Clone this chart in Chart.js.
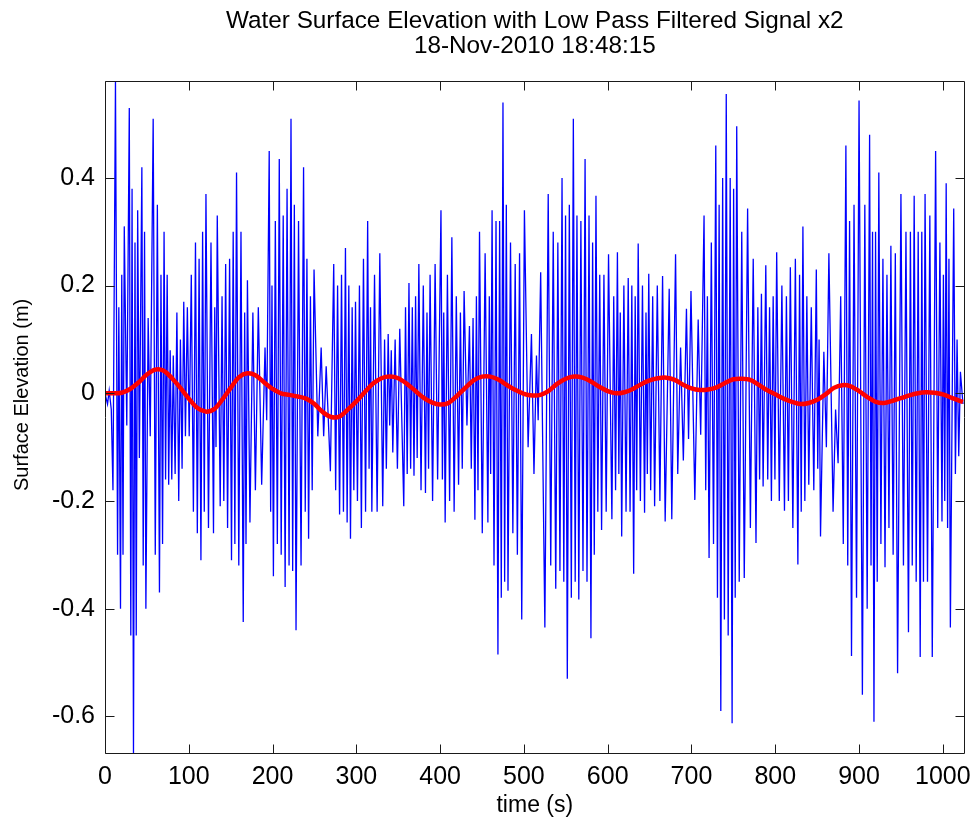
<!DOCTYPE html>
<html><head><meta charset="utf-8">
<script src="https://cdn.jsdelivr.net/npm/chart.js@4.4.1/dist/chart.umd.min.js"></script>
<style>html,body{margin:0;padding:0;background:#fff;}#wrap{width:979px;height:827px;}</style>
</head><body><div id="wrap"><canvas id="c" width="979" height="827"></canvas></div>
<script>
const titleLines = ['Water Surface Elevation with Low Pass Filtered Signal x2', '18-Nov-2010 18:48:15'];
const xLabel = 'time (s)';
const yLabel = 'Surface Elevation (m)';
const xTicks = [0, 100, 200, 300, 400, 500, 600, 700, 800, 900, 1000];
const yTicks = [-0.6, -0.4, -0.2, 0, 0.2, 0.4];

// raw surface elevation: successive crests and troughs
const waveTime = [0,3,5,7.5,9.5,12.5,15,16.5,18.5,20,21.5,23,26,29,30.8,32.3,34,35.8,37.3,39,41,44,45.6,47.2,48.8,51.5,54,57.5,60,62.5,65,66.8,68.7,70.5,72.3,74.2,76,77.8,79.7,81.5,83.7,85.8,88,90,92,94,96,98.3,100.5,103,105.5,108,110.2,112.3,114.5,116.5,118.5,120.5,123.5,126.5,129.5,131,132.5,134,137.5,139.7,141.8,144,146.3,148.7,151,153,155,157,159.7,162.3,165,166.7,168.3,170,173,176.5,179.5,183,187,191,193,196,197.7,199.3,201,203.3,205.7,208,210.3,212.7,215,217.3,219.7,222,224,226,228,231,234,237,239,241,243,245.2,247.3,249.5,254,258,261,264,269,273,275.3,277.6,280,282.3,284.6,287,289,291,293,295,297,299,301.3,303.7,306,308.5,311,313.5,315.2,316.9,318.5,321.7,324.8,328,331.5,333.7,335.8,338,339.8,341.7,343.5,346.3,349,351.8,356.6,358.7,360.7,362.8,364.8,366.8,368.8,370.7,372.6,374.6,377.2,379.9,382.5,384.3,386.2,388,391,394,397,401,402.7,404.3,406,408.7,411.3,414,416.7,419.3,422,424.2,426.4,428.6,432,435,437.2,439.3,441.5,443.3,445.2,447,450.3,453.7,457,458.7,460.3,462,464.3,466.7,469,471,473,475,477,479,481,484,486.8,489.6,492.2,494.8,497.4,500.6,505,509,512,515,517,520,525,529,532,535,538,540.5,543,545.5,547.6,549.7,551.8,554.2,556.6,559,561.2,563.3,565.5,568,570.5,573,575.3,577.7,580,582,584,586,588.2,590.5,592.7,595.5,598.2,601,605,607.2,609.4,611.6,613.3,615,616.7,619.3,621.9,624.5,626.7,628.8,631,632.8,634.6,636.4,639,641.5,644,645.7,647.3,649,651.3,653.7,656,659.2,662.3,665.5,668.6,673.4,676.5,681,683.6,687,690.3,694,696.5,699.4,704,708,711,715,717,719,721,723.7,726.3,729,731,733,735,737.2,739.3,741.5,743.8,746.2,748.5,750.3,752.2,754,757,760,763,767,770.3,773.7,777,779.2,781.3,783.5,785.5,788.7,791,793.2,795.4,797.5,799.6,801.7,804.8,807.9,811,813.3,815.7,818,821,824,827,829,831,833,835.3,837.7,840,843,846,849,850.7,852.3,854,858,861,864,869,872,875,878.1,881.2,884.3,886.5,888.7,891,894,897,900,904,906.9,909.7,912.6,914.3,916.1,917.8,919.7,921.7,923.6,926.1,928.5,931,933.3,935.7,938,940.7,943.3,946,950,953,956,959,961.3,963.5,965.8,968.2,970.6,973,974.9,976.9,978.8,981.7,984.5,987.4,991.4,993.9,996.5,999,1000.7,1002.3,1004,1005.7,1007.3,1009,1013,1015,1017,1019,1021,1024];
const waveElev = [0,-0.02,0.005,-0.03,-0.18,0.58,-0.30,0.16,-0.40,0.22,-0.30,0.31,-0.06,0.53,-0.45,0.38,-0.67,0.28,-0.45,0.34,-0.12,0.42,-0.32,0.30,-0.40,0.14,-0.08,0.51,-0.30,0.35,-0.37,0.22,-0.28,0.30,-0.16,0.22,-0.17,0.08,-0.16,0.07,-0.15,0.15,-0.20,0.10,-0.14,0.17,-0.08,0.16,-0.08,0.22,-0.22,0.28,-0.26,0.25,-0.31,0.30,-0.22,0.37,-0.25,0.28,-0.26,0.16,-0.10,0.33,-0.21,0.18,-0.20,0.24,-0.25,0.25,-0.31,0.30,-0.28,0.41,-0.32,0.30,-0.425,0.15,-0.28,0.21,-0.24,0.15,-0.18,0.16,-0.17,0.085,-0.05,0.45,-0.22,0.20,-0.34,0.32,-0.28,0.435,-0.30,0.33,-0.36,0.38,-0.32,0.51,-0.33,0.35,-0.44,0.32,-0.32,0.42,-0.22,0.25,-0.27,0.18,-0.18,0.23,-0.08,0.085,-0.08,0.05,-0.145,0.24,-0.18,0.20,-0.225,0.22,-0.22,0.27,-0.24,0.20,-0.27,0.16,-0.18,0.17,-0.20,0.20,-0.25,0.25,-0.22,0.32,-0.14,0.16,-0.22,0.22,-0.22,0.26,-0.21,0.10,-0.14,0.11,-0.06,0.08,-0.11,0.10,-0.14,0.12,-0.21,0.16,-0.15,0.205,-0.14,0.16,-0.153,0.18,-0.12,0.24,-0.18,0.20,-0.185,0.15,-0.14,0.22,-0.20,0.24,-0.16,0.34,-0.16,0.15,-0.24,0.22,-0.20,0.29,-0.22,0.18,-0.17,0.15,-0.14,0.19,-0.06,0.125,-0.14,0.14,-0.235,0.18,-0.18,0.30,-0.26,0.26,-0.24,0.18,-0.15,0.34,-0.32,0.32,-0.485,0.32,-0.38,0.54,-0.35,0.35,-0.367,0.28,-0.26,0.24,-0.30,0.26,-0.42,0.34,-0.10,0.11,-0.15,0.07,-0.05,0.225,-0.435,0.37,-0.32,0.30,-0.363,0.28,-0.33,0.40,-0.35,0.33,-0.53,0.35,-0.38,0.51,-0.35,0.33,-0.383,0.32,-0.33,0.435,-0.35,0.33,-0.455,0.28,-0.30,0.367,-0.22,0.22,-0.254,0.22,-0.22,0.258,-0.234,0.18,-0.18,0.262,-0.15,0.15,-0.266,0.20,-0.22,0.214,-0.22,0.20,-0.335,0.18,-0.18,0.278,-0.20,0.20,-0.222,0.15,-0.15,0.222,-0.18,0.18,-0.21,0.20,-0.20,0.218,-0.238,0.194,-0.234,0.258,-0.15,0.085,-0.125,0.157,-0.085,0.19,-0.198,0.137,-0.077,0.33,-0.18,0.18,-0.306,0.28,-0.28,0.46,-0.38,0.35,-0.59,0.40,-0.42,0.556,-0.45,0.40,-0.613,0.38,-0.38,0.496,-0.35,0.30,-0.343,0.343,-0.25,0.25,-0.278,0.16,-0.16,0.185,-0.173,0.238,-0.16,0.16,-0.20,0.18,-0.16,0.262,-0.20,0.20,-0.218,0.18,-0.20,0.234,-0.25,0.25,-0.318,0.22,-0.22,0.31,-0.20,0.18,-0.17,0.16,-0.18,0.23,-0.14,0.10,-0.266,0.077,-0.10,0.26,-0.22,-0.03,-0.13,0.18,-0.28,0.46,-0.32,0.32,-0.488,0.35,-0.38,0.544,-0.56,0.35,-0.40,0.48,-0.32,0.30,-0.61,0.30,-0.35,0.41,-0.28,0.25,-0.323,0.22,-0.25,0.274,-0.30,0.26,-0.52,0.37,-0.32,0.30,-0.444,0.30,-0.32,0.367,-0.35,0.30,-0.49,0.30,-0.35,0.37,-0.35,0.33,-0.49,0.45,-0.25,0.28,-0.238,0.22,-0.20,0.39,-0.25,0.25,-0.435,0.343,-0.15,0.10,-0.117,0.04,-0.02];

// low pass filtered signal
const filterTime = [0,10,20,30,40,50,60,70,80,90,100,110,120,130,140,150,160,170,180,190,200,210,220,230,240,250,260,270,280,290,300,310,320,330,340,350,360,370,380,390,400,410,420,430,440,450,460,470,480,490,500,510,520,530,540,550,560,570,580,590,600,610,620,630,640,650,660,670,680,690,700,710,720,730,740,750,760,770,780,790,800,810,820,830,840,850,860,870,880,890,900,910,920,930,940,950,960,970,980,990,1000,1010,1020,1024];
const filterElev = [0,0,0.001,0.008,0.02,0.035,0.044,0.042,0.028,0.01,-0.01,-0.027,-0.034,-0.03,-0.012,0.01,0.03,0.037,0.033,0.02,0.008,0,-0.003,-0.006,-0.01,-0.02,-0.035,-0.044,-0.043,-0.03,-0.015,0.002,0.018,0.028,0.031,0.028,0.018,0.005,-0.008,-0.017,-0.021,-0.018,-0.005,0.01,0.024,0.031,0.031,0.025,0.015,0.006,-0.001,-0.004,-0.003,0.005,0.018,0.027,0.031,0.029,0.022,0.012,0.004,0,0.002,0.008,0.017,0.024,0.028,0.029,0.025,0.016,0.009,0.006,0.007,0.011,0.019,0.026,0.027,0.025,0.016,0.006,-0.002,-0.01,-0.016,-0.02,-0.018,-0.012,-0.002,0.01,0.015,0.013,0.004,-0.007,-0.016,-0.018,-0.014,-0.009,-0.004,0,0.002,0.001,-0.002,-0.008,-0.014,-0.016];

const FONT = 'Liberation Sans, Arial, Helvetica, sans-serif';
const wave = waveTime.map((t, i) => ({x: t, y: waveElev[i]}));
const filt = filterTime.map((t, i) => ({x: t, y: filterElev[i]}));

const boxPlugin = {
  id: 'matlabBox',
  afterDraw(chart) {
    const {ctx, chartArea: a} = chart;
    const xs = chart.scales.x, ys = chart.scales.y;
    const L = 9;
    ctx.save();
    ctx.strokeStyle = '#1a1a1a';
    ctx.lineWidth = 1;
    ctx.beginPath();
    const l = Math.round(a.left) + 0.5, r = Math.round(a.right) - 0.5;
    const t = Math.round(a.top) + 0.5, b = Math.round(a.bottom) - 0.5;
    ctx.rect(l, t, r - l, b - t);
    xTicks.forEach(v => {
      const p = Math.round(xs.getPixelForValue(v)) + 0.5;
      ctx.moveTo(p, b); ctx.lineTo(p, b - L);
      ctx.moveTo(p, t); ctx.lineTo(p, t + L);
    });
    yTicks.forEach(v => {
      const p = Math.round(ys.getPixelForValue(v)) + 0.5;
      ctx.moveTo(l, p); ctx.lineTo(l + L, p);
      ctx.moveTo(r, p); ctx.lineTo(r - L, p);
    });
    ctx.stroke();
    // y axis label, placed as in the original figure (centred near the zero line)
    ctx.fillStyle = '#000';
    ctx.font = '20px ' + FONT;
    ctx.textAlign = 'center';
    ctx.textBaseline = 'middle';
    ctx.translate(22, ys.getPixelForValue(-0.003));
    ctx.rotate(-Math.PI / 2);
    ctx.fillText(yLabel, 0, 0);
    ctx.restore();
  }
};

new Chart(document.getElementById('c'), {
  type: 'line',
  data: {
    datasets: [
      {label: 'Low pass filtered x2', data: filt, borderColor: '#ff0000', borderWidth: 4.5, pointRadius: 0, tension: 0.3, order: 0},
      {label: 'Surface elevation', data: wave, borderColor: '#0000ff', borderWidth: 1.3, pointRadius: 0, tension: 0, order: 1}
    ]
  },
  options: {
    responsive: false, animation: false, devicePixelRatio: 1,
    layout: {padding: {left: 0, right: 5, top: 0, bottom: 0}},
    plugins: {
      legend: {display: false}, tooltip: {enabled: false},
      title: {display: true, text: titleLines, fullSize: false, color: '#000',
        font: {family: FONT, size: 24.3, weight: 'normal', lineHeight: 1.06},
        padding: {top: 8, bottom: 21.5}}
    },
    scales: {
      x: {type: 'linear', position: 'bottom', min: 0, max: 1026,
        afterBuildTicks: s => { s.ticks = xTicks.map(v => ({value: v})); },
        afterFit: s => { s.height = 73; },
        grid: {display: false, drawTicks: false}, border: {display: false},
        ticks: {autoSkip: false, maxRotation: 0, padding: 8, color: '#000', font: {family: FONT, size: 25}, callback: v => String(v)},
        title: {display: true, text: xLabel, color: '#000', font: {family: FONT, size: 23, lineHeight: 1.2}, padding: {top: 0, bottom: 8}}
      },
      y: {type: 'linear', position: 'left', min: -0.67, max: 0.58,
        afterBuildTicks: s => { s.ticks = yTicks.map(v => ({value: v})); },
        afterFit: s => { s.width = 105; },
        grid: {display: false, drawTicks: false}, border: {display: false},
        ticks: {autoSkip: false, padding: 10, color: '#000', font: {family: FONT, size: 25}, callback: v => (Math.abs(v) < 1e-9 ? '0' : v.toFixed(1))},
        title: {display: false}
      }
    }
  },
  plugins: [boxPlugin]
});
</script></body></html>
